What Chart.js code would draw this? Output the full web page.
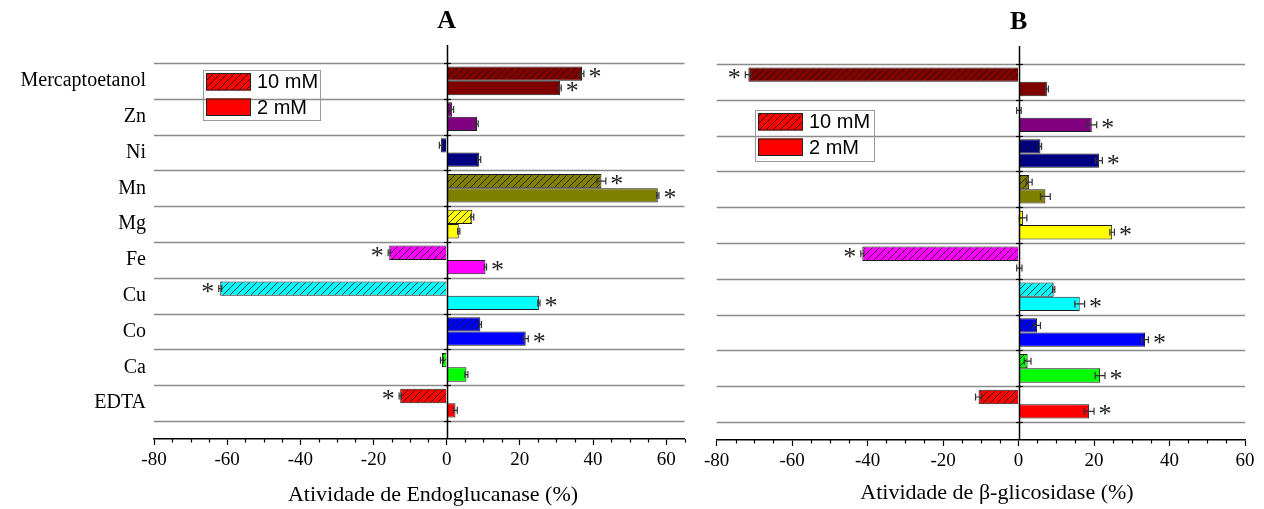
<!DOCTYPE html>
<html>
<head>
<meta charset="utf-8">
<title>Atividade enzimática – íons metálicos</title>
<script src="https://cdn.jsdelivr.net/npm/chart.js@4.4.0/dist/chart.umd.min.js"></script>
<style>
  html, body { margin: 0; padding: 0; background: #fff; }
  #wrap { position: relative; width: 1264px; height: 509px; }
  #chartA { position: absolute; left: 0; top: 0; }
  #chartB { position: absolute; left: 700px; top: 0; }
</style>
</head>
<body>
<div id="wrap">
  <canvas id="chartA" width="700" height="509"></canvas>
  <canvas id="chartB" width="564" height="509"></canvas>
</div>
<script>
// ── Dados ────────────────────────────────────────────────────
const categories   = ['Mercaptoetanol', 'Zn', 'Ni', 'Mn', 'Mg', 'Fe', 'Cu', 'Co', 'Ca', 'EDTA'];
const barColors    = ['#800000', '#800080', '#000080', '#808000', '#ffff00', '#ff00ff', '#00ffff', '#0000ff', '#00ff00', '#ff0000'];
const seriesLabels = ['10 mM', '2 mM'];
const legendColor  = '#ff0000';

// A – Endoglucanase
const endo10    = [37.0, 1.5, -1.6, 42.3, 7.0, -15.7, -61.9, 9.2, -1.3, -12.7];
const endo10Err = [0.5, 0.4, 0.4, 1.2, 0.4, 0.3, 0.4, 0.3, 0.4, 0.3];
const endo10Sig = [1, 0, 0, 1, 0, 1, 1, 0, 0, 1];
const endo2     = [31.0, 8.3, 8.9, 57.7, 3.3, 10.6, 25.2, 21.6, 5.4, 2.4];
const endo2Err  = [0.3, 0.3, 0.4, 0.3, 0.3, 0.3, 0.3, 0.7, 0.4, 0.5];
const endo2Sig  = [1, 0, 0, 1, 0, 1, 1, 1, 0, 0];

// B – β-glicosidase
const bgli10    = [-71.6, 0.1, 5.8, 2.8, 1.2, -41.4, 9.3, 4.9, 2.4, -10.6];
const bgli10Err = [0.8, 0.6, 0.3, 0.8, 1.0, 0.4, 0.3, 0.9, 0.9, 0.8];
const bgli10Sig = [1, 0, 0, 0, 0, 1, 0, 0, 0, 0];
const bgli2     = [7.5, 19.4, 21.3, 7.1, 24.8, 0.2, 16.2, 33.5, 21.6, 18.7];
const bgli2Err  = [0.4, 1.3, 0.9, 1.3, 0.6, 0.7, 1.3, 0.9, 1.3, 1.3];
const bgli2Sig  = [0, 1, 1, 0, 1, 0, 1, 1, 1, 1];

const xTicks     = [-80, -60, -40, -20, 0, 20, 40, 60];
const minorStep  = 5;

const SERIF = "'Liberation Serif', 'Times New Roman', serif";
const SANS  = "'Liberation Sans', Arial, sans-serif";

// ── Hachura diagonal ─────────────────────────────────────────
function hatch(color) {
    const s = 7;
    const c = document.createElement('canvas');
    c.width = s; c.height = s;
    const g = c.getContext('2d');
    g.fillStyle = color;
    g.fillRect(0, 0, s, s);
    g.strokeStyle = '#111';
    g.lineWidth = 0.8;
    g.beginPath();
    g.moveTo(-1, s + 1); g.lineTo(s + 1, -1);
    g.moveTo(-1, 1);     g.lineTo(1, -1);
    g.moveTo(s - 1, s + 1); g.lineTo(s + 1, s - 1);
    g.stroke();
    return g.createPattern(c, 'repeat');
}

// posição na escala: primeira categoria no topo
const rowOf = i => categories.length - i;

function makeDatasets(v10, e10, s10, v2, e2, s2) {
    const common = { borderColor: '#1a1a1a', borderWidth: 1, categoryPercentage: 0.8, barPercentage: 1.0 };
    return [
        { ...common, label: seriesLabels[0], data: v10.map((v, i) => ({ x: v, y: rowOf(i) })),
          backgroundColor: barColors.map(hatch), errors: e10, stars: s10, hatched: true },
        { ...common, label: seriesLabels[1], data: v2.map((v, i) => ({ x: v, y: rowOf(i) })),
          backgroundColor: barColors, errors: e2, stars: s2, hatched: false }
    ];
}

// ── Plugin: separadores, linha do zero, erros, asteriscos, legenda, títulos ──
const panelDecor = {
    id: 'panelDecor',
    beforeDatasetsDraw(chart) {
        const { ctx, chartArea: a, scales: { x, y } } = chart;
        ctx.save();
        ctx.strokeStyle = '#8a8a8a';
        ctx.lineWidth = 1.3;
        for (let k = 0; k <= categories.length; k++) {
            const py = Math.round(y.getPixelForValue(k + 0.5)) + 0.5;
            ctx.beginPath(); ctx.moveTo(a.left, py); ctx.lineTo(a.right, py); ctx.stroke();
        }
        // ticks menores do eixo x
        ctx.strokeStyle = '#000';
        ctx.lineWidth = 1.2;
        for (let v = x.min; v <= x.max; v += minorStep) {
            if (xTicks.includes(v)) continue;
            const px = Math.round(x.getPixelForValue(v)) + 0.5;
            ctx.beginPath(); ctx.moveTo(px, a.bottom); ctx.lineTo(px, a.bottom + 3.5); ctx.stroke();
        }
        ctx.restore();
    },
    afterDatasetsDraw(chart) {
        const { ctx, chartArea: a, scales: { x, y } } = chart;
        ctx.save();
        // barras de erro
        chart.data.datasets.forEach((ds, di) => {
            const meta = chart.getDatasetMeta(di);
            meta.data.forEach((el, i) => {
                const v = ds.data[i].x, e = ds.errors[i];
                const p1 = x.getPixelForValue(v - e), p2 = x.getPixelForValue(v + e);
                const cy = el.y, ch = 3.5;
                ctx.strokeStyle = '#333';
                ctx.lineWidth = 1.2;
                ctx.beginPath();
                ctx.moveTo(p1, cy); ctx.lineTo(p2, cy);
                ctx.moveTo(p1, cy - ch); ctx.lineTo(p1, cy + ch);
                ctx.moveTo(p2, cy - ch); ctx.lineTo(p2, cy + ch);
                ctx.stroke();
                if (ds.stars[i]) {
                    const dir = v < 0 ? -1 : 1;
                    const sx = x.getPixelForValue(v + dir * e) + dir * 11;
                    ctx.font = `26px ${SERIF}`;
                    ctx.fillStyle = '#222';
                    ctx.textAlign = 'center';
                    ctx.textBaseline = 'alphabetic';
                    const m = ctx.measureText('*');
                    const off = (m.actualBoundingBoxAscent - m.actualBoundingBoxDescent) / 2;
                    ctx.fillText('*', sx, cy + off - 1);
                }
            });
        });
        // linha do zero com marcas nos separadores
        const zx = Math.round(x.getPixelForValue(0)) + 0.5;
        ctx.strokeStyle = '#000';
        ctx.lineWidth = 1.5;
        ctx.beginPath(); ctx.moveTo(zx, a.top); ctx.lineTo(zx, a.bottom); ctx.stroke();
        ctx.lineWidth = 1.2;
        for (let k = 0; k <= categories.length; k++) {
            const py = Math.round(y.getPixelForValue(k + 0.5)) + 0.5;
            ctx.beginPath(); ctx.moveTo(zx - 3.5, py); ctx.lineTo(zx + 3.5, py); ctx.stroke();
        }
        ctx.restore();
    },
    afterDraw(chart, args, opts) {
        const { ctx, scales: { x } } = chart;
        ctx.save();
        // letra do painel
        ctx.fillStyle = '#000';
        ctx.textAlign = 'center';
        ctx.textBaseline = 'alphabetic';
        ctx.font = `bold 26px ${SERIF}`;
        ctx.fillText(opts.letter, x.getPixelForValue(0), opts.letterY);
        // título do eixo x
        ctx.font = `22px ${SERIF}`;
        ctx.fillText(opts.axisTitle, opts.axisTitleX, opts.axisTitleY);
        // legenda
        const L = opts.legend;
        ctx.strokeStyle = '#9a9a9a';
        ctx.lineWidth = 1;
        ctx.strokeRect(L.x + 0.5, L.y + 0.5, L.w, L.h);
        ctx.font = `20px ${SANS}`;
        ctx.textAlign = 'left';
        ctx.textBaseline = 'middle';
        chart.data.datasets.forEach((ds, di) => {
            const top = L.y + 3 + di * 25.5;
            ctx.fillStyle = ds.hatched ? hatch(legendColor) : legendColor;
            ctx.fillRect(L.x + 3, top, 45, 17.5);
            ctx.strokeStyle = '#222';
            ctx.strokeRect(L.x + 3.5, top + 0.5, 44, 16.5);
            ctx.fillStyle = '#000';
            ctx.fillText(ds.label, L.x + 54, top + 9.5);
        });
        ctx.restore();
    }
};

function makePanel(canvasId, datasets, cfg) {
    return new Chart(document.getElementById(canvasId), {
        type: 'bar',
        data: { datasets },
        options: {
            responsive: false,
            animation: false,
            indexAxis: 'y',
            layout: { padding: cfg.padding },
            plugins: {
                legend: { display: false },
                tooltip: { enabled: false },
                panelDecor: cfg.decor
            },
            scales: {
                x: {
                    type: 'linear', min: -80, max: cfg.xMax,
                    afterBuildTicks: s => { s.ticks = xTicks.map(v => ({ value: v })); },
                    afterFit: s => { s.height = cfg.xHeight; },
                    grid: { drawOnChartArea: false, tickLength: 6, color: '#000', tickWidth: 1.2 },
                    border: { color: '#000', width: 1.5 },
                    ticks: { font: { family: SERIF, size: 19 }, color: '#000', padding: 4,
                             maxRotation: 0, autoSkip: false, callback: v => String(v) }
                },
                y: {
                    type: 'linear', min: 0, max: categories.length + 1, offset: false,
                    afterBuildTicks: s => { s.ticks = categories.map((c, i) => ({ value: i + 1 })); },
                    afterFit: s => { s.width = cfg.yWidth; },
                    grid: { display: false, drawTicks: false },
                    border: { display: false },
                    ticks: { display: cfg.showLabels, autoSkip: false, padding: 8, color: '#000',
                             font: { family: SERIF, size: 20 },
                             callback: v => categories[categories.length - v] }
                }
            }
        },
        plugins: [panelDecor]
    });
}

makePanel('chartA', makeDatasets(endo10, endo10Err, endo10Sig, endo2, endo2Err, endo2Sig), {
    xMax: 65, xHeight: 70, yWidth: 154, showLabels: true,
    padding: { left: 0, right: 15.5, top: 45, bottom: 0 },
    decor: { letter: 'A', letterY: 28, axisTitle: 'Atividade de Endoglucanase (%)',
             axisTitleX: 433, axisTitleY: 501,
             legend: { x: 203, y: 70, w: 117, h: 50 } }
});

makePanel('chartB', makeDatasets(bgli10, bgli10Err, bgli10Sig, bgli2, bgli2Err, bgli2Sig), {
    xMax: 60, xHeight: 69, yWidth: 15, showLabels: false,
    padding: { left: 0, right: 19, top: 46, bottom: 0 },
    decor: { letter: 'B', letterY: 29, axisTitle: 'Atividade de β-glicosidase (%)',
             axisTitleX: 297, axisTitleY: 499,
             legend: { x: 55, y: 110, w: 119, h: 51 } }
});
</script>
</body>
</html>
